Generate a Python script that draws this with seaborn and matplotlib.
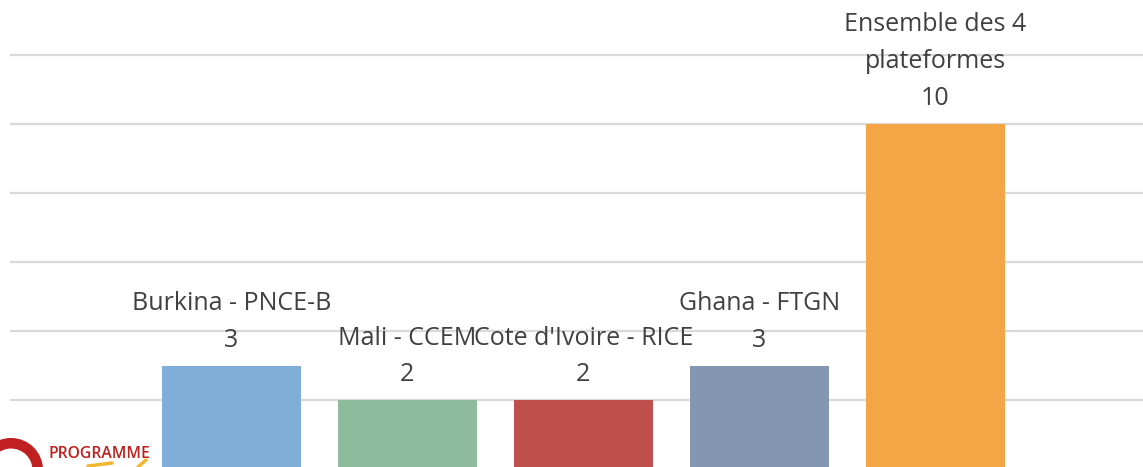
import numpy as np
import pandas as pd
import matplotlib
matplotlib.use('Agg')
import matplotlib.pyplot as plt
import matplotlib.patches as mpatches
import matplotlib.lines as mlines
import seaborn as sns

# data
categories = ['Burkina - PNCE-B', 'Mali - CCEM', "Cote d'Ivoire - RICE",
              'Ghana - FTGN', 'Ensemble des 4 plateformes']
labels = ['Burkina - PNCE-B', 'Mali - CCEM', "Cote d'Ivoire - RICE",
          'Ghana - FTGN', 'Ensemble des 4\nplateformes']
values = [3, 2, 2, 3, 10]
colors = ['#7FAED8', '#8DBB9B', '#C0504D', '#8497B0', '#F4A646']

df = pd.DataFrame({'cat': categories, 'val': values})

sns.set_style('white')
plt.rcParams['font.family'] = ['Open Sans', 'DejaVu Sans']

W, H = 1143, 467
fig = plt.figure(figsize=(W / 100, H / 100), dpi=100)
ax = fig.add_axes([10 / W, 0, 1 - 10 / W, 1])

sns.barplot(data=df, x='cat', y='val', hue='cat', palette=colors,
            width=0.79, legend=False, saturation=1, linewidth=0, ax=ax)

# horizontal gridlines
for g in [2, 4, 6, 8, 10, 12]:
    ax.axhline(g, color='#d9d9d9', lw=1.6, zorder=0)

ax.set_xlim(-1.258, 5.18)
ax.set_ylim(0.075, 13.59)
ax.set_axis_off()

# data labels: category name + value above each bar
for i, (lab, v) in enumerate(zip(labels, values)):
    ax.annotate(f'{lab}\n{v}', xy=(i, v), xytext=(0, 9.5),
                textcoords='offset points', ha='center', va='bottom',
                multialignment='center', fontsize=18, color='#404040',
                linespacing=1.62)

# logo fragment, bottom left
r = 26.75
fig.add_artist(mpatches.Ellipse((11 / W, 1 - 470 / H), 2 * r / W, 2 * r / H,
                                fill=False, ec='#C0201F', lw=7.6))
fig.text(48 / W, 1 - 458 / H, 'PROGRAMME', color='#C0201F', fontsize=11.3,
         fontweight='semibold', ha='left', va='baseline')
for xs, ys in [([88, 112], [466, 463]), ([138, 146], [467, 460])]:
    fig.add_artist(mlines.Line2D([x / W for x in xs], [1 - y / H for y in ys],
                                 color='#F2B631', lw=2.5))

fig.savefig('out.png', dpi=100)
